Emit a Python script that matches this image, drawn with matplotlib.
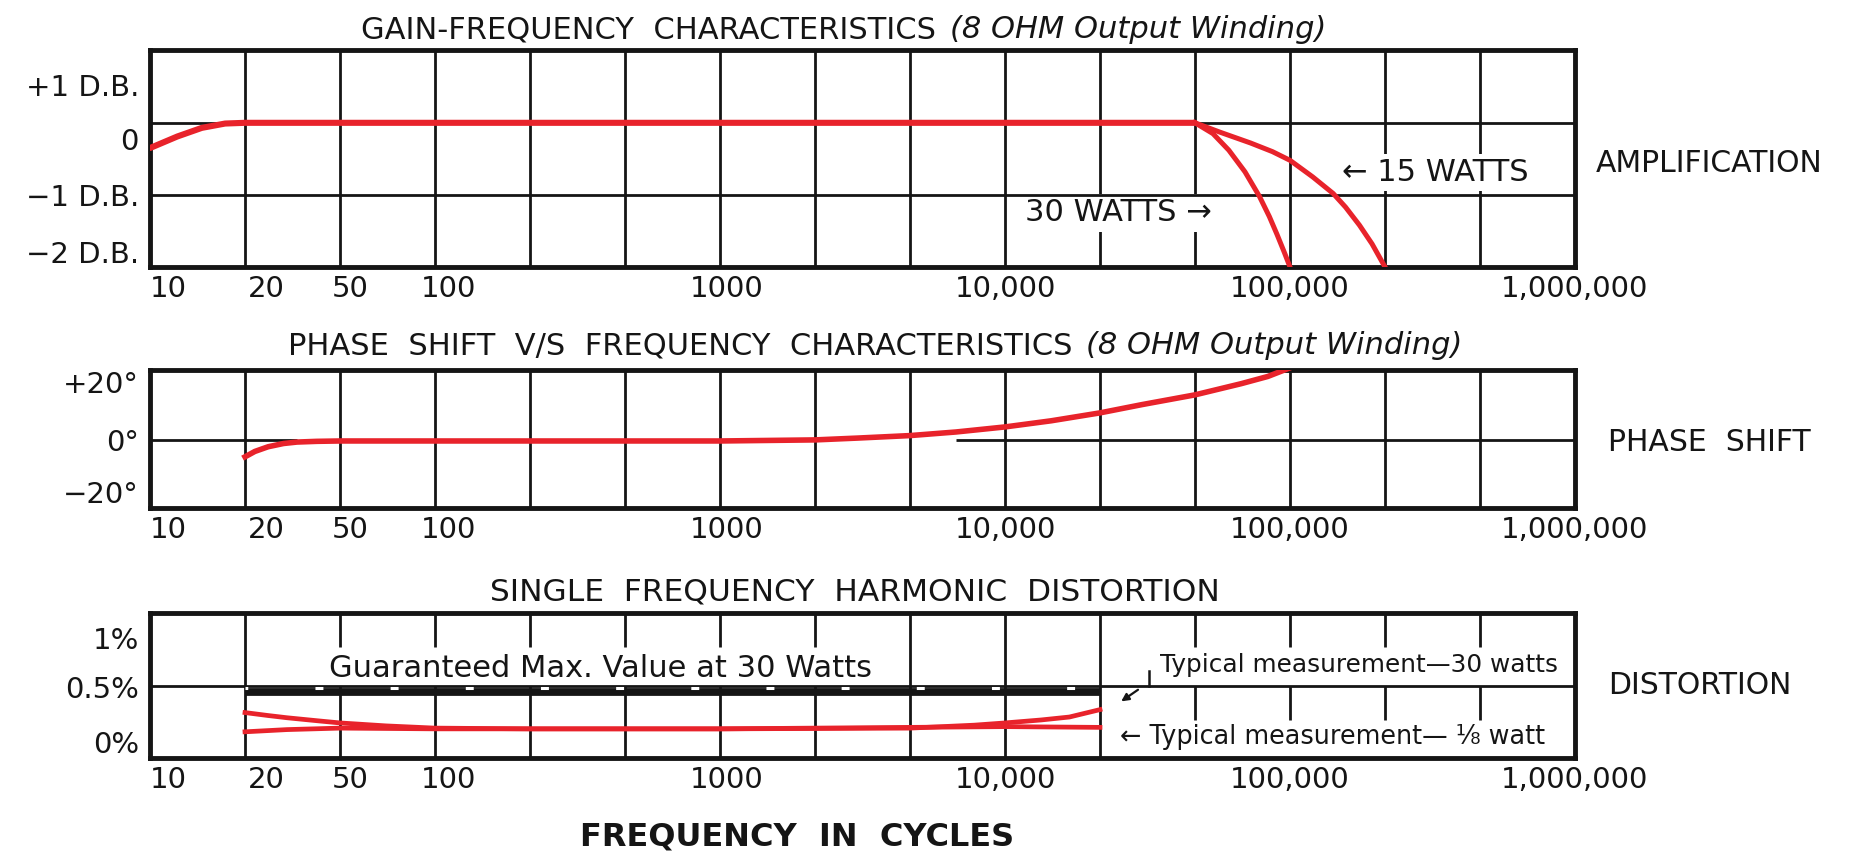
import numpy as np
import matplotlib
matplotlib.use('Agg')
import matplotlib.pyplot as plt
from matplotlib.transforms import ScaledTranslation

plt.rcParams['font.family'] = ['DejaVu Sans']

# printed frequency grid: equal steps on a 1-2-5 series
grid_freq = [10, 20, 50, 100, 200, 500, 1000, 2000, 5000, 10000,
             20000, 50000, 100000, 200000, 500000, 1000000]
tick_freq = [10, 20, 50, 100, 1000, 10000, 100000, 1000000]
tick_labels = ['10', '20', '50', '100', '1000', '10,000', '100,000', '1,000,000']

# gain (dB)
gain_freq = [10, 12.2, 14.6, 17.3, 20, 100, 1000, 10000, 50000]
gain_db = [-0.35, -0.19, -0.07, -0.01, 0, 0, 0, 0, 0]
gain30_freq = [50000, 57000, 64000, 72000, 80000, 86000, 91000, 96000, 100000]
gain30_db = [0, -0.15, -0.38, -0.68, -1.02, -1.3, -1.55, -1.8, -2.0]
gain15_freq = [50000, 60000, 75000, 88000, 100000, 118000, 137000, 150000,
               166000, 182000, 200000]
gain15_db = [0, -0.13, -0.28, -0.4, -0.52, -0.75, -0.98, -1.17, -1.42, -1.68, -2.0]

# phase shift (degrees)
phase_freq = [20, 22, 25, 29, 33, 40, 50, 100, 1000, 2000, 3000, 5000, 7000,
              10000, 14000, 20000, 30000, 50000, 70000, 85000, 100000]
phase_deg = [-4.7, -3.2, -1.9, -1.0, -0.6, -0.4, -0.3, -0.3, -0.3, 0.0, 0.5,
             1.2, 2.2, 3.6, 5.3, 7.5, 9.8, 12.5, 15.6, 17.6, 20]

# harmonic distortion (%)
dist30_freq = [20, 25, 30, 40, 50, 70, 100, 200, 1000, 5000, 8000, 10000,
               13000, 16000, 20000]
dist30_pct = [0.32, 0.30, 0.285, 0.265, 0.25, 0.23, 0.215, 0.21, 0.21, 0.215,
              0.235, 0.25, 0.27, 0.29, 0.34]
dist8_freq = [20, 30, 50, 100, 1000, 10000, 20000]
dist8_pct = [0.19, 0.205, 0.215, 0.21, 0.21, 0.225, 0.22]
guaranteed_freq = [20, 20000]
guaranteed_pct = [0.46, 0.46]

RED = '#e8232b'
INK = '#151515'
W, H = 1853, 863
GRID_LW = 2.0
# small nudges (pixels) of the printed frequency numbers
label_shift = [0, 3, 10, 14, 7, 0, 0, 0]

grid_log = np.log10(grid_freq)
grid_idx = np.arange(len(grid_freq), dtype=float)


def fwd(x):
    x = np.asarray(x, dtype=float)
    with np.errstate(divide='ignore', invalid='ignore'):
        lx = np.log10(np.where(x > 0, x, np.nan))
    return np.interp(lx, grid_log, grid_idx)


def inv(c):
    return 10 ** np.interp(np.asarray(c, dtype=float), grid_idx, grid_log)


def px(x, y):
    return x / W, 1 - y / H


def setup(ax, ylim, yticks, ylabels):
    ax.set_xscale('function', functions=(fwd, inv))
    ax.set_xlim(10, 1000000)
    ax.set_ylim(*ylim)
    ax.set_xticks(tick_freq)
    ax.set_xticklabels(tick_labels)
    ax.xaxis.set_minor_locator(plt.NullLocator())
    ax.yaxis.set_minor_locator(plt.NullLocator())
    ax.set_yticks(yticks)
    ax.set_yticklabels(ylabels)
    ax.tick_params(axis='both', length=0, labelsize=21, colors=INK)
    ax.tick_params(axis='x', pad=6)
    ax.tick_params(axis='y', pad=8)
    for i, lab in enumerate(ax.get_xticklabels()):
        if i < 2:
            lab.set_horizontalalignment('left')
        if label_shift[i]:
            off = ScaledTranslation(label_shift[i] / 100, 0, fig.dpi_scale_trans)
            lab.set_transform(lab.get_transform() + off)
    for sp in ax.spines.values():
        sp.set_linewidth(3.5)
        sp.set_color(INK)


fig = plt.figure(figsize=(W / 100, H / 100), dpi=100)

# ---- gain ----
ax1 = fig.add_axes([150 / W, 1 - 267 / H, 1425 / W, 217 / H])
setup(ax1, (-2.0, 1.01), [0.53, -0.23, -1.0, -1.79],
      ['+1 D.B.', '0', '\u22121 D.B.', '\u22122 D.B.'])
ax1.vlines(grid_freq[1:-1], -2.0, 1.01, color=INK, lw=GRID_LW, zorder=1)
ax1.axhline(0, color=INK, lw=GRID_LW, zorder=4)
ax1.axhline(-1, color=INK, lw=GRID_LW, zorder=4)
ax1.plot(gain_freq, gain_db, color=RED, lw=4.4, solid_capstyle='round', zorder=5)
ax1.plot(gain30_freq, gain30_db, color=RED, lw=3.6, zorder=5)
ax1.plot(gain15_freq, gain15_db, color=RED, lw=3.6, zorder=5)
ax1.text(146000, -0.69, '\u2190 15 WATTS', fontsize=22, color=INK, ha='left',
         va='center', zorder=3,
         bbox=dict(facecolor='white', edgecolor='none', pad=3))
ax1.text(11600, -1.25, '30 WATTS \u2192', fontsize=22, color=INK, ha='left',
         va='center', zorder=3,
         bbox=dict(facecolor='white', edgecolor='none', pad=3))

# ---- phase ----
ax2 = fig.add_axes([150 / W, 1 - 508 / H, 1425 / W, 138 / H])
setup(ax2, (-18.9, 19.4), [16.1, 0, -14.4],
      ['+20\u00b0', '0\u00b0', '\u221220\u00b0'])
ax2.vlines(grid_freq[1:-1], -18.9, 19.4, color=INK, lw=GRID_LW, zorder=1)
ax2.hlines(0, 10, 33, color=INK, lw=GRID_LW, zorder=2)
ax2.hlines(0, 7000, 1000000, color=INK, lw=GRID_LW, zorder=2)
ax2.plot(phase_freq, phase_deg, color=RED, lw=4.0, zorder=5)

# ---- distortion ----
ax3 = fig.add_axes([150 / W, 1 - 758 / H, 1425 / W, 145 / H])
setup(ax3, (0.013, 0.993), [0.824, 0.49, 0.12], ['1%', '0.5%', '0%'])
full_cols = [20, 5000, 10000, 20000]
below_cols = [50, 100, 200, 500, 1000, 2000]
mid_cols = [50000, 100000, 200000, 500000]
ax3.vlines(full_cols, 0.013, 0.993, color=INK, lw=GRID_LW, zorder=1)
ax3.vlines(below_cols + mid_cols, 0.76, 0.993, color=INK, lw=GRID_LW, zorder=1)
ax3.vlines(below_cols, 0.013, 0.5, color=INK, lw=GRID_LW, zorder=1)
ax3.vlines(mid_cols, 0.27, 0.5, color=INK, lw=GRID_LW, zorder=1)
ax3.axhline(0.5, color=INK, lw=GRID_LW, zorder=2)
ax3.plot(guaranteed_freq, guaranteed_pct, color=INK, lw=5.6,
         solid_capstyle='butt', zorder=3)
ax3.plot(guaranteed_freq, [v + 0.024 for v in guaranteed_pct], color='white',
         lw=2.2, linestyle=(1.7, (2.6, 22)), zorder=3.5)
ax3.plot(dist30_freq, dist30_pct, color=RED, lw=3.4, zorder=5)
ax3.plot(dist8_freq, dist8_pct, color=RED, lw=3.4, zorder=5)
ax3.text(44.8, 0.62, 'Guaranteed Max. Value at 30 Watts', fontsize=22,
         color=INK, ha='left', va='center')
ax3.text(35600, 0.64, 'Typical measurement\u201430 watts', fontsize=17.8,
         color=INK, ha='left', va='center')
ax3.text(24200, 0.155, '\u2190 Typical measurement\u2014 \u215b watt',
         fontsize=18.4, color=INK, ha='left', va='center')
ax3.plot([32000, 32000], [0.5, 0.6], color=INK, lw=1.8, zorder=2)
ax3.annotate('', xy=(24000, 0.385), xytext=(29500, 0.485),
             arrowprops=dict(arrowstyle='-|>', lw=1.6, color=INK,
                             mutation_scale=11))

# ---- titles and side labels ----
fig.text(*px(936, 30), 'GAIN-FREQUENCY  CHARACTERISTICS', fontsize=22,
         color=INK, ha='right', va='center')
fig.text(*px(950, 30), '(8 OHM Output Winding)', fontsize=22, style='italic',
         color=INK, ha='left', va='center')
fig.text(*px(1072, 346), 'PHASE  SHIFT  V/S  FREQUENCY  CHARACTERISTICS',
         fontsize=22, color=INK, ha='right', va='center')
fig.text(*px(1086, 346), '(8 OHM Output Winding)', fontsize=22, style='italic',
         color=INK, ha='left', va='center')
fig.text(*px(855, 592), 'SINGLE  FREQUENCY  HARMONIC  DISTORTION', fontsize=22.5,
         color=INK, ha='center', va='center')
fig.text(*px(797, 837), 'FREQUENCY  IN  CYCLES', fontsize=23, weight='bold',
         color=INK, ha='center', va='center')
fig.text(*px(1596, 163), 'AMPLIFICATION', fontsize=21.5, color=INK, ha='left',
         va='center')
fig.text(*px(1608, 442), 'PHASE  SHIFT', fontsize=21.5, color=INK, ha='left',
         va='center')
fig.text(*px(1608, 685), 'DISTORTION', fontsize=21.5, color=INK, ha='left',
         va='center')

fig.savefig('out.png', dpi=100, facecolor='white')
